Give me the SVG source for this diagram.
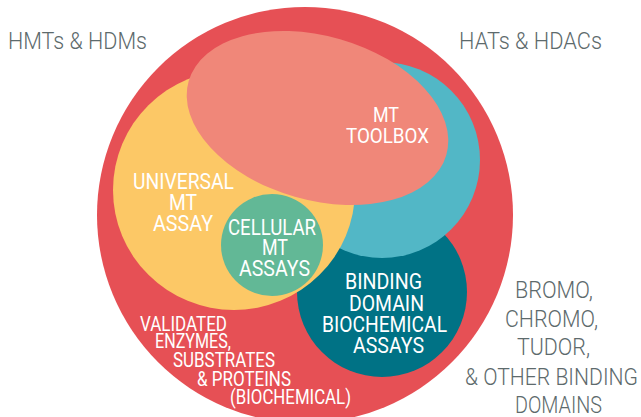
<svg xmlns="http://www.w3.org/2000/svg" width="641" height="417" viewBox="0 0 641 417">
<style>
.out{font-family:Roboto,"Liberation Sans",sans-serif;font-weight:300;fill:#5d6a6c}
.in{font-family:Roboto,"Liberation Sans",sans-serif;font-weight:400;fill:#ffffff}
</style>
<rect width="641" height="417" fill="#ffffff"/>
<g id="outer-labels">
<text class="out" x="8" y="49" font-size="24" textLength="139" lengthAdjust="spacingAndGlyphs">HMTs &amp; HDMs</text>
<text class="out" x="459" y="49" font-size="24" textLength="143" lengthAdjust="spacingAndGlyphs">HATs &amp; HDACs</text>
</g>
<g id="red-circle"><circle cx="305" cy="215" r="208" fill="#e65055"/></g>
<g id="binding-domain"><circle cx="382" cy="292" r="85" fill="#007285"/></g>
<g id="teal-circle"><circle cx="382" cy="160" r="98" fill="#52b7c6"/></g>
<g id="universal-mt"><ellipse cx="234" cy="190" rx="121" ry="120" fill="#fcc866"/></g>
<g id="mt-toolbox"><ellipse cx="317.5" cy="118" rx="134" ry="82" transform="rotate(16 317.5 118)" fill="#f08779"/></g>
<g id="cellular-mt"><circle cx="272" cy="245" r="51" fill="#62b896"/></g>
<g id="connectors"></g>
<g id="labels">
<text class="in" x="373" y="122" font-size="21" textLength="26" lengthAdjust="spacingAndGlyphs">MT</text>
<text class="in" x="346" y="143" font-size="21" textLength="83" lengthAdjust="spacingAndGlyphs">TOOLBOX</text>
<text class="in" x="133" y="189" font-size="22" textLength="101" lengthAdjust="spacingAndGlyphs">UNIVERSAL</text>
<text class="in" x="169" y="210" font-size="22" textLength="28" lengthAdjust="spacingAndGlyphs">MT</text>
<text class="in" x="153" y="231" font-size="22" textLength="60" lengthAdjust="spacingAndGlyphs">ASSAY</text>
<text class="in" x="228" y="235" font-size="22" textLength="88" lengthAdjust="spacingAndGlyphs">CELLULAR</text>
<text class="in" x="262" y="255" font-size="22" textLength="26" lengthAdjust="spacingAndGlyphs">MT</text>
<text class="in" x="239" y="276" font-size="22" textLength="71" lengthAdjust="spacingAndGlyphs">ASSAYS</text>
<text class="in" x="345" y="289" font-size="22" textLength="77" lengthAdjust="spacingAndGlyphs">BINDING</text>
<text class="in" x="349" y="311" font-size="22" textLength="75" lengthAdjust="spacingAndGlyphs">DOMAIN</text>
<text class="in" x="322" y="332" font-size="22" textLength="125" lengthAdjust="spacingAndGlyphs">BIOCHEMICAL</text>
<text class="in" x="353" y="353" font-size="22" textLength="71" lengthAdjust="spacingAndGlyphs">ASSAYS</text>
<text class="in" x="140" y="331" font-size="20" textLength="87" lengthAdjust="spacingAndGlyphs">VALIDATED</text>
<text class="in" x="155" y="348" font-size="20" textLength="76" lengthAdjust="spacingAndGlyphs">ENZYMES,</text>
<text class="in" x="173" y="367" font-size="20" textLength="102" lengthAdjust="spacingAndGlyphs">SUBSTRATES</text>
<text class="in" x="197" y="386" font-size="20" textLength="94" lengthAdjust="spacingAndGlyphs">&amp; PROTEINS</text>
<text class="in" x="230" y="404" font-size="20" textLength="121" lengthAdjust="spacingAndGlyphs">(BIOCHEMICAL)</text>
<text class="out" x="515" y="298" font-size="23" textLength="78" lengthAdjust="spacingAndGlyphs">BROMO,</text>
<text class="out" x="505" y="327" font-size="23" textLength="93" lengthAdjust="spacingAndGlyphs">CHROMO,</text>
<text class="out" x="517" y="355" font-size="23" textLength="73" lengthAdjust="spacingAndGlyphs">TUDOR,</text>
<text class="out" x="465" y="385" font-size="23" textLength="173" lengthAdjust="spacingAndGlyphs">&amp; OTHER BINDING</text>
<text class="out" x="515" y="413" font-size="23" textLength="87" lengthAdjust="spacingAndGlyphs">DOMAINS</text>
</g>
</svg>
